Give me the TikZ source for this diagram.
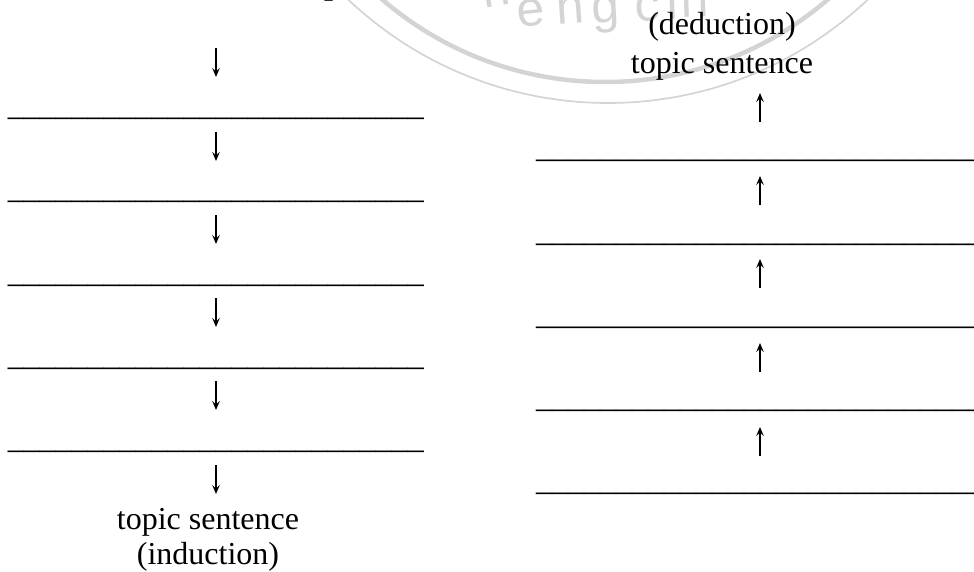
\documentclass[tikz,border=0pt]{standalone}
\usepackage{fontspec}
\setmainfont{Liberation Serif}
\newfontfamily\wmfont{Liberation Sans}
\usetikzlibrary{arrows.meta}
\definecolor{wm}{HTML}{D4D4D4}
\newcommand{\blankL}{\_\_\_\_\_\_\_\_\_\_\_\_\_\_\_\_\_\_\_\_\_\_\_\_\_\_}
\newcommand{\blankR}{\_\_\_\_\_\_\_\_\_\_\_\_\_\_\_\_\_\_\_\_\_\_\_\_\_\_\_\_}
\begin{document}
\begin{tikzpicture}[x=1pt,y=-1pt,
  txt/.style={font=\fontsize{32}{38}\selectfont, inner sep=0pt, anchor=base},
  blank/.style={txt},
  arr/.style={line width=1.2pt, -{Stealth[length=9pt,width=7.5pt,inset=3.5pt]}},
  wmletter/.style={font=\wmfont\fontsize{50}{50}\selectfont, text=wm, inner sep=0pt, anchor=base west}]
\useasboundingbox (0,0) rectangle (974,572);
\begin{scope}
  \clip (0,0) rectangle (974,572);
  % watermark
  \draw[wm, line width=4.5pt] (605,-260) circle (342);
  \draw[wm, line width=1.7pt] (608,-275) circle (378);
  \node[wmletter, rotate=10] (w1) at (484,9) {h};
  \node[wmletter, rotate=6] (w2) at (518,28) {e};
  \node[wmletter, rotate=4] (w3) at (557,25) {n};
  \node[wmletter, rotate=3] (w4) at (592,24) {g};
  \node[wmletter, rotate=2] (w5) at (635,22) {c};
  \node[wmletter, rotate=2] (w6) at (667,20) {i};
  \node[wmletter, rotate=2] (w7) at (681,18) {n};
  % cut-off title fragment
  \node[font=\bfseries\fontsize{32}{38}\selectfont, inner sep=0pt, anchor=base west] (title) at (324,-5) {p};
\end{scope}
% left column (induction)
\foreach \i/\y in {1/119,2/202,3/285,4/368,5/451}
  \node[blank] (ll\i) at (216,\y-3) {\blankL};
\foreach \i/\y in {1/48,2/132,3/215,4/298,5/381,6/465}{
  \coordinate (la\i s) at (216,\y);
  \coordinate (la\i e) at (216,\y+29);
  \draw[arr] (la\i s) -- (la\i e);
}
\node[txt] (lts) at (208,529) {topic sentence};
\node[txt] (lind) at (208,564) {(induction)};
% right column (deduction)
\node[txt] (rded) at (722,35) {(deduction)};
\node[txt] (rts) at (722,74) {topic sentence};
\foreach \i/\y in {1/161,2/244,3/327,4/410,5/493}
  \node[blank] (rl\i) at (760,\y-3) {\blankR};
\foreach \i/\y in {1/122,2/205,3/288,4/372,5/456}{
  \coordinate (ra\i s) at (760,\y);
  \coordinate (ra\i e) at (760,\y-29);
  \draw[arr] (ra\i s) -- (ra\i e);
}
\end{tikzpicture}
\end{document}
